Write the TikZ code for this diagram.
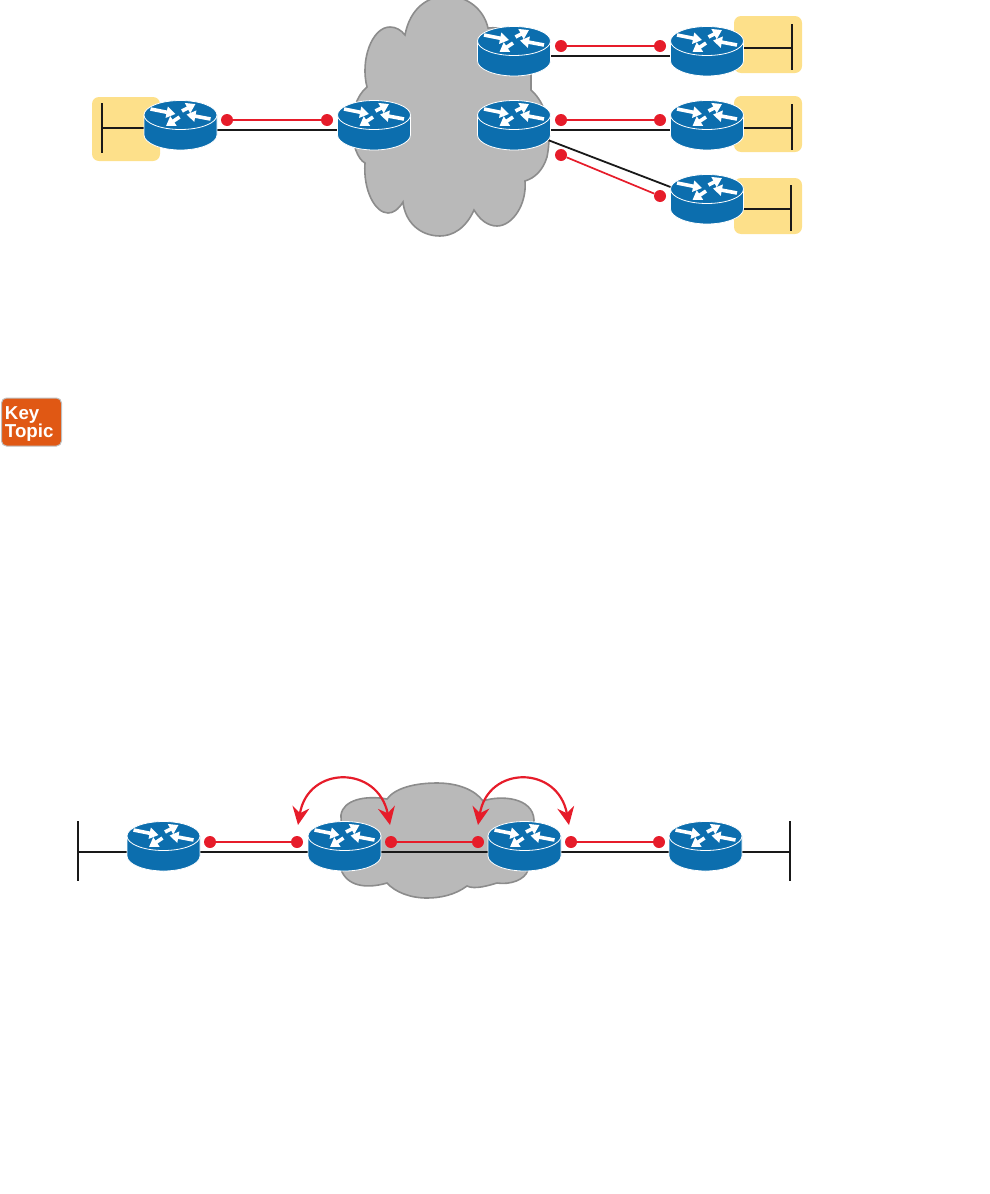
\documentclass[tikz,border=0pt]{standalone}
\usepackage{fontspec}
\setsansfont{Liberation Sans}
\usepackage{tikz}
\usetikzlibrary{arrows.meta, positioning, calc}
\definecolor{routerblue}{RGB}{12,110,174}
\definecolor{dotred}{RGB}{230,28,42}
\definecolor{cloudgray}{RGB}{185,185,185}
\definecolor{cloudedge}{RGB}{140,140,140}
\definecolor{lanyellow}{RGB}{253,224,138}
\definecolor{keyorange}{RGB}{224,88,20}
\tikzset{
  routerbox/.style={minimum width=74pt, minimum height=50pt, inner sep=0pt},
  reddot/.style={circle, fill=dotred, minimum size=12pt, inner sep=0pt},
  redlink/.style={dotred, line width=1.7pt},
  blacklink/.style={black!90, line width=1.8pt},
  lanbar/.style={black!90, line width=1.8pt},
  lanbox/.style={fill=lanyellow, rounded corners=7pt, minimum width=68pt, inner sep=0pt},
  cloudshape/.style={fill=cloudgray, draw=cloudedge, line width=1.6pt},
  hoparrow/.style={dotred, line width=2.2pt, {Stealth[length=18pt,width=17pt,inset=6pt]}-{Stealth[length=18pt,width=17pt,inset=6pt]}},
  flowarrow/.style={white, line width=3.6pt, -{Triangle[length=9pt,width=11pt]}},
  router/.pic={
    \fill[routerblue, draw=white, line width=0.8pt] (-36.5,-10) -- (-36.5,10)
      .. controls (-36.5,18) and (-20,25) .. (0,25)
      .. controls (20,25) and (36.5,18) .. (36.5,10) -- (36.5,-10) -- cycle;
    \fill[routerblue, draw=white, line width=0.8pt] (0,-10) ellipse (36.5 and 14.5);
    \draw[flowarrow] (-30,-16) -- (-5,-11);
    \draw[flowarrow] (1.5,-14) -- (15,-21);
    \draw[flowarrow] (30,-6) -- (6,-10.5);
    \draw[flowarrow] (-1,-8) -- (-14.5,1);
  }
}
\begin{document}
\begin{tikzpicture}[x=1pt, y=-1pt]
  \useasboundingbox (0,0) rectangle (990,1194);

  % Upper cloud
  \begin{scope}
    \clip (0,0) rectangle (990,300);
    \path[cloudshape] (405,35) .. controls (410,8) and (428,-4) .. (447,-4)
      .. controls (468,-4) and (484,10) .. (488,28)
      .. controls (515,25) and (535,50) .. (531,75) -- (531,90)
      .. controls (548,105) and (552,132) .. (547,157)
      .. controls (543,170) and (535,178) .. (525,181)
      .. controls (527,205) and (512,226) .. (497,226)
      .. controls (488,226) and (480,220) .. (474,210)
      .. controls (466,228) and (453,236) .. (440,236)
      .. controls (420,236) and (405,222) .. (403,202)
      .. controls (398,210) and (393,213) .. (388,213)
      .. controls (375,213) and (363,190) .. (365,163)
      .. controls (350,155) and (345,105) .. (367,87)
      .. controls (360,60) and (372,27) .. (390,27)
      .. controls (396,27) and (401,30) .. (405,35) -- cycle;
  \end{scope}

  % Lower cloud
  \path[cloudshape] (341,815) .. controls (343,800) and (365,795) .. (387,799)
    .. controls (395,788) and (415,783) .. (437,783)
    .. controls (458,783) and (475,790) .. (483,801)
    .. controls (500,795) and (533,797) .. (534,820)
    -- (528,870)
    .. controls (525,880) and (510,885) .. (497,883)
    .. controls (490,885) and (475,890) .. (467,886)
    .. controls (455,895) and (440,898) .. (427,898)
    .. controls (410,898) and (395,892) .. (387,883)
    .. controls (370,888) and (350,888) .. (342,872) -- cycle;

  % LAN boxes
  \node[lanbox, minimum height=64pt] (lanA) at (126,129) {};
  \node[lanbox, minimum height=57pt] (lanE) at (768,44.5) {};
  \node[lanbox, minimum height=56pt] (lanF) at (768,124) {};
  \node[lanbox, minimum height=56pt] (lanG) at (768,206) {};

  % Routers, top
  \node[routerbox] (rA) at (180.5,125) {};
  \node[routerbox] (rB) at (374,125) {};
  \node[routerbox] (rC) at (514,51) {};
  \node[routerbox] (rD) at (514,125) {};
  \node[routerbox] (rE) at (707,51) {};
  \node[routerbox] (rF) at (707,125) {};
  \node[routerbox] (rG) at (707,199) {};

  % Routers, bottom
  \node[routerbox] (rH) at (163.5,846) {};
  \node[routerbox] (rI) at (344.5,846) {};
  \node[routerbox] (rJ) at (524.5,846) {};
  \node[routerbox] (rK) at (705.5,846) {};

  % Black links
  \draw[blacklink] ([yshift=-5pt]rA.center) -- ([yshift=-5pt]rB.center);
  \draw[blacklink] ([yshift=-5pt]rC.center) -- ([yshift=-5pt]rE.center);
  \draw[blacklink] ([yshift=-5pt]rD.center) -- ([yshift=-5pt]rF.center);
  \draw[blacklink] ([yshift=-2pt]rD.center) -- ([yshift=-2pt]rG.center);
  \draw[blacklink] ([yshift=-6pt]rH.center) -- ([yshift=-6pt]rI.center);
  \draw[blacklink] ([yshift=-6pt]rI.center) -- ([yshift=-6pt]rJ.center);
  \draw[blacklink] ([yshift=-6pt]rJ.center) -- ([yshift=-6pt]rK.center);

  % LAN bars
  \coordinate (barA) at (102,128);
  \coordinate (barE) at (792,48);
  \coordinate (barF) at (792,128);
  \coordinate (barG) at (791,209);
  \coordinate (barH) at (78,852);
  \coordinate (barK) at (790,852);
  \draw[lanbar] ($(barA)+(0,-25)$) -- ($(barA)+(0,25)$);
  \draw[lanbar] ($(barE)+(0,-24)$) -- ($(barE)+(0,22)$);
  \draw[lanbar] ($(barF)+(0,-24)$) -- ($(barF)+(0,22)$);
  \draw[lanbar] ($(barG)+(0,-24)$) -- ($(barG)+(0,22)$);
  \draw[lanbar] ($(barH)+(0,-31)$) -- ($(barH)+(0,29)$);
  \draw[lanbar] ($(barK)+(0,-31)$) -- ($(barK)+(0,29)$);
  \draw[lanbar] (barA) -- (rA.center |- barA);
  \draw[lanbar] (barE) -- (rE.center |- barE);
  \draw[lanbar] (barF) -- (rF.center |- barF);
  \draw[lanbar] (barG) -- (rG.center |- barG);
  \draw[lanbar] (barH) -- (rH.center |- barH);
  \draw[lanbar] (barK) -- (rK.center |- barK);

  \foreach \r in {rA,rB,rC,rD,rE,rF,rG,rH,rI,rJ,rK}
    \pic at (\r) {router};

  % Red dots
  \node[reddot] (a1) at (227,120) {};
  \node[reddot] (a2) at (327,120) {};
  \node[reddot] (c1) at (561,46) {};
  \node[reddot] (c2) at (660,46) {};
  \node[reddot] (d1) at (561,120) {};
  \node[reddot] (d2) at (660,120) {};
  \node[reddot] (g1) at (561,155) {};
  \node[reddot] (g2) at (660,196) {};
  \node[reddot] (h1) at (210,842) {};
  \node[reddot] (h2) at (297,842) {};
  \node[reddot] (i1) at (391,842) {};
  \node[reddot] (i2) at (478,842) {};
  \node[reddot] (j1) at (571,842) {};
  \node[reddot] (j2) at (659,842) {};

  % Red links
  \draw[redlink] (a1) -- (a2);
  \draw[redlink] (c1) -- (c2);
  \draw[redlink] (d1) -- (d2);
  \draw[redlink] (g1) -- (g2);
  \draw[redlink] (h1) -- (h2);
  \draw[redlink] (i1) -- (i2);
  \draw[redlink] (j1) -- (j2);

  % Curved arrows
  \coordinate (hop1) at (298,825);
  \coordinate (hop2) at (390,825);
  \coordinate (hop3) at (478,825);
  \coordinate (hop4) at (569,825);
  \draw[hoparrow] (hop1) .. controls (308,765) and (378,765) .. (hop2);
  \draw[hoparrow] (hop3) .. controls (488,765) and (558,765) .. (hop4);

  % Key Topic
  \node[fill=keyorange, draw=black!25, line width=1pt, rounded corners=5pt,
    minimum width=60pt, minimum height=48pt, inner sep=0pt] (keytopic) at (31.5,422) {};
  \node[inner sep=0pt, text=white, text width=53pt, align=left,
    font=\sffamily\bfseries\fontsize{18.7}{17.5}\selectfont] (keylabel) at ([yshift=-2pt]keytopic.center) {Key\\Topic};
\end{tikzpicture}
\end{document}
